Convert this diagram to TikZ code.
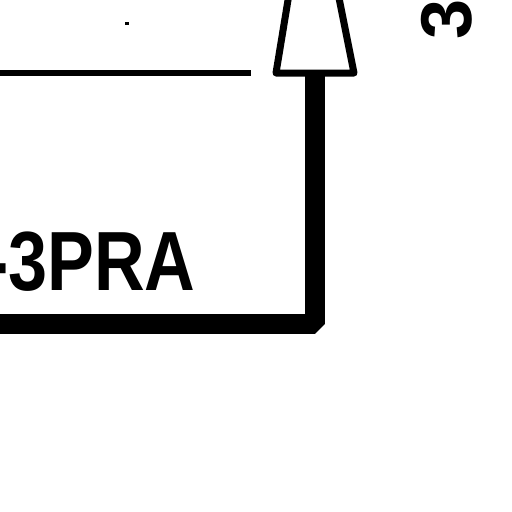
\documentclass[tikz,border=0pt]{standalone}
\usepackage{fontspec}
\setmainfont{Liberation Sans}
\begin{document}
\begin{tikzpicture}[x=1pt,y=-1pt,
  thinline/.style={line width=6.5pt},
  cone/.style={line width=7pt,line join=round},
  thickline/.style={line width=19.5pt,line join=bevel},
  label/.style={inner sep=0pt,font=\bfseries}]
\useasboundingbox[fill=white] (0,0) rectangle (512,512);
% named points
\coordinate (lineL) at (-2,73);
\coordinate (lineR) at (251,73);
\coordinate (coneTL) at (290,-12);
\coordinate (coneBL) at (276,73);
\coordinate (coneBR) at (354,73);
\coordinate (coneTR) at (337,-12);
\coordinate (stemTop) at (315,73);
\coordinate (stemCorner) at (315,324);
\coordinate (stemEnd) at (-5,324);
% thin horizontal line
\draw[thinline] (lineL) -- (lineR);
% thick connector
\draw[thickline] (stemTop) -- (stemCorner) -- (stemEnd);
% cone / trapezoid
\fill[white] (coneTL) -- (coneBL) -- (coneBR) -- (coneTR) -- cycle;
\draw[cone] (coneTL) -- (coneBL) -- (coneBR) -- (coneTR);
% speck
\fill (125,21.5) rectangle (128.5,25);
% texts
\node[label,anchor=base west,xscale=0.835,font=\bfseries\fontsize{84}{84}\selectfont] (txt) at (-15,290) {-3PRA};
\node[label,rotate=90,font=\bfseries\fontsize{72}{72}\selectfont] (three) at (447,19) {3};
\end{tikzpicture}
\end{document}
